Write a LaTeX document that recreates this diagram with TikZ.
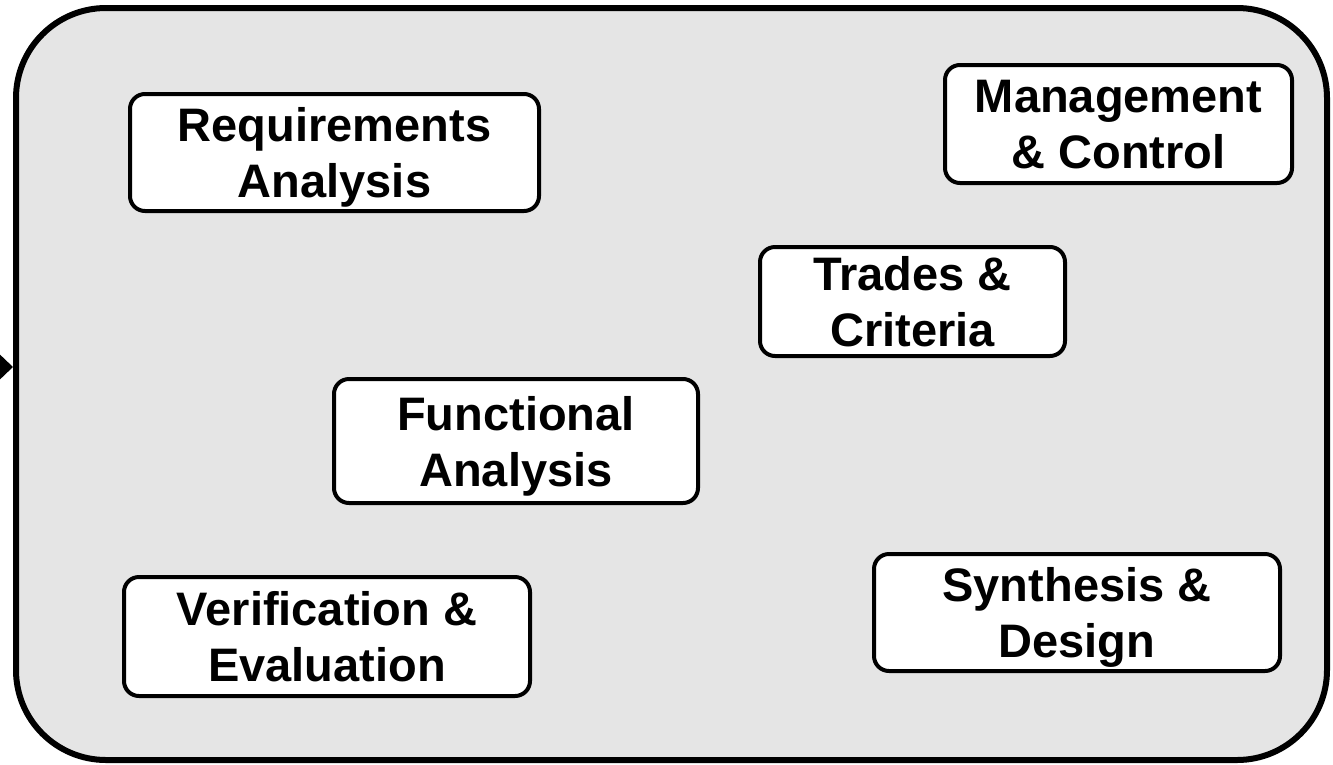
\documentclass[tikz,border=0pt]{standalone}
\usepackage{fontspec}
\setmainfont{Liberation Sans}
\usetikzlibrary{arrows.meta}
\definecolor{panelgray}{RGB}{229,229,229}
\begin{document}
\begin{tikzpicture}[x=1pt,y=-1pt,
  frame/.style={draw=black, line width=6pt, fill=panelgray, rounded corners=90pt,
    inner sep=0pt, minimum width=1311pt, minimum height=752pt},
  activity/.style={draw=black, line width=4pt, fill=white, rounded corners=15pt,
    inner sep=0pt, align=center, text depth=0pt,
    execute at begin node={\rule{0pt}{43pt}},
    font=\fontsize{47}{56}\selectfont\bfseries}]
\useasboundingbox (0,0) rectangle (1333,764);

% enclosing process panel
\node[frame] (panel) at (671.5,384) {};

% activities
\node[activity, minimum width=409pt, minimum height=117pt] (req)    at (334.5,152.5) {Requirements\\Analysis};
\node[activity, minimum width=347pt, minimum height=118pt] (mgmt)   at (1118.5,124)  {Management\\\& Control};
\node[activity, minimum width=305pt, minimum height=109pt] (trades) at (912.5,301.5) {Trades \&\\Criteria};
\node[activity, minimum width=364pt, minimum height=124pt] (func)   at (516,441)     {Functional\\Analysis};
\node[activity, minimum width=406pt, minimum height=119pt] (verif)  at (327,636.5)   {Verification \&\\Evaluation};
\node[activity, minimum width=406pt, minimum height=117pt] (synth)  at (1077,612.5)  {Synthesis \&\\Design};

% incoming input
\coordinate (input) at (-40,367);
\draw[line width=3pt, -{Triangle[length=14pt,width=26pt]}] (input) -- (input -| panel.west);
\end{tikzpicture}
\end{document}
